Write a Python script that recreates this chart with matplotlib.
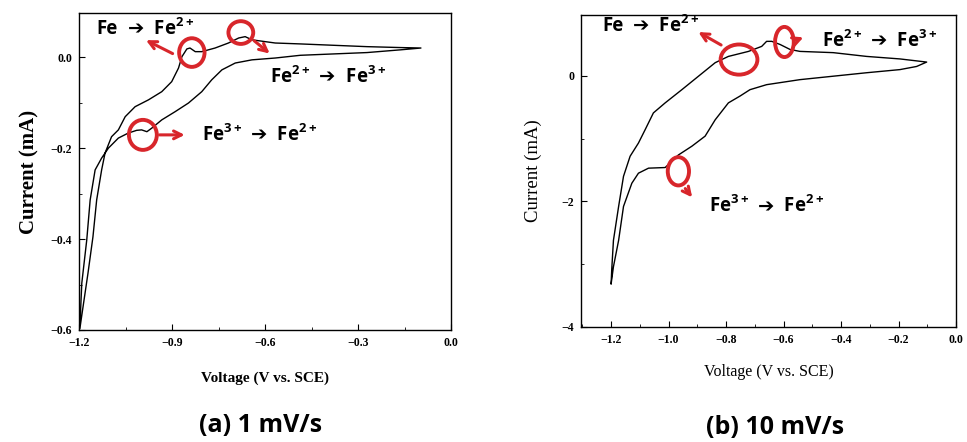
import matplotlib
matplotlib.use("Agg")
import matplotlib.pyplot as plt
from matplotlib.patches import Ellipse
from matplotlib.ticker import MultipleLocator

# (a) 1 mV/s: forward sweep (upper branch) then return (lower branch)
a_up_v = [-1.197, -1.190, -1.171, -1.155, -1.143, -1.127, -1.116, -1.095, -1.073, -1.051,
          -1.019, -0.976, -0.933, -0.901, -0.879, -0.868, -0.852, -0.842, -0.825, -0.804,
          -0.761, -0.718, -0.685, -0.664, -0.642, -0.567, -0.486, -0.379, -0.271, -0.163, -0.097]
a_up_i = [-0.596, -0.563, -0.475, -0.395, -0.314, -0.248, -0.211, -0.175, -0.160, -0.131,
          -0.109, -0.094, -0.076, -0.054, -0.024, 0.001, 0.018, 0.020, 0.012, 0.012,
          0.020, 0.031, 0.042, 0.045, 0.038, 0.031, 0.029, 0.026, 0.023, 0.021, 0.020]
a_dn_v = [-0.097, -0.163, -0.271, -0.379, -0.486, -0.567, -0.642, -0.696, -0.739, -0.772,
          -0.804, -0.847, -0.890, -0.933, -0.965, -0.981, -0.998, -1.014, -1.041, -1.073,
          -1.105, -1.127, -1.148, -1.164, -1.175, -1.191, -1.197]
a_dn_i = [0.020, 0.016, 0.010, 0.007, 0.004, -0.002, -0.006, -0.013, -0.028, -0.050,
          -0.076, -0.101, -0.120, -0.138, -0.156, -0.164, -0.160, -0.161, -0.167, -0.178,
          -0.200, -0.222, -0.248, -0.314, -0.402, -0.497, -0.589]

# (b) 10 mV/s
b_up_v = [-1.200, -1.198, -1.192, -1.174, -1.157, -1.134, -1.105, -1.082, -1.053, -1.012,
          -0.954, -0.896, -0.838, -0.792, -0.722, -0.676, -0.659, -0.641, -0.612, -0.577,
          -0.543, -0.427, -0.311, -0.195, -0.102]
b_up_i = [-3.31, -3.09, -2.62, -2.08, -1.60, -1.28, -1.07, -0.86, -0.59, -0.43,
          -0.22, -0.005, 0.21, 0.31, 0.39, 0.47, 0.55, 0.55, 0.50, 0.42,
          0.39, 0.37, 0.31, 0.27, 0.22]
b_dn_v = [-0.102, -0.137, -0.195, -0.311, -0.427, -0.543, -0.659, -0.717, -0.751, -0.792,
          -0.838, -0.873, -0.919, -0.966, -1.012, -1.070, -1.105, -1.128, -1.157, -1.174,
          -1.192, -1.200]
b_dn_i = [0.22, 0.15, 0.10, 0.05, -0.005, -0.06, -0.14, -0.22, -0.32, -0.43,
          -0.70, -0.96, -1.12, -1.26, -1.46, -1.47, -1.55, -1.71, -2.08, -2.62,
          -3.04, -3.31]

RED = "#d8262b"
plt.rcParams["mathtext.fontset"] = "custom"
plt.rcParams["mathtext.rm"] = "Open Sans:bold"
plt.rcParams["mathtext.bf"] = "Open Sans:bold"
SANS = ["Open Sans", "DejaVu Sans"]
SERIF = ["Liberation Serif", "DejaVu Serif"]

fig = plt.figure(figsize=(9.67, 4.42), dpi=100)
ax1 = fig.add_axes([0.0817, 0.2534, 0.3847, 0.7172])
ax2 = fig.add_axes([0.6008, 0.2602, 0.3878, 0.7059])

ax1.plot(a_up_v + a_dn_v, a_up_i + a_dn_i, color="black", lw=1.0)
ax2.plot(b_up_v + b_dn_v, b_up_i + b_dn_i, color="black", lw=1.0)

ax1.set_xlim(-1.2, 0.0)
ax1.set_ylim(-0.6, 0.097)
ax1.xaxis.set_major_locator(MultipleLocator(0.3))
ax1.xaxis.set_minor_locator(MultipleLocator(0.15))
ax1.yaxis.set_major_locator(MultipleLocator(0.2))
ax1.yaxis.set_minor_locator(MultipleLocator(0.1))

ax2.set_xlim(-1.305, 0.0)
ax2.set_ylim(-4, 0.97)
ax2.xaxis.set_major_locator(MultipleLocator(0.2))
ax2.xaxis.set_minor_locator(MultipleLocator(0.1))
ax2.yaxis.set_major_locator(MultipleLocator(2))
ax2.yaxis.set_minor_locator(MultipleLocator(1))

for ax in (ax1, ax2):
    ax.tick_params(which="both", direction="in", top=False, right=False)
    ax.tick_params(which="major", length=4, pad=5)
    ax.tick_params(which="minor", length=2.5)
    for lab in ax.get_xticklabels() + ax.get_yticklabels():
        lab.set_fontfamily(SERIF)
        lab.set_fontweight("bold")
        lab.set_fontsize(8.5)
    for s in ax.spines.values():
        s.set_linewidth(1.0)

ax1.set_ylabel("Current (mA)", family=SERIF, fontweight="bold", fontsize=15, labelpad=8)
ax1.set_xlabel("Voltage (V vs. SCE)", family=SERIF, fontweight="bold", fontsize=11, labelpad=16)
ax2.set_ylabel("Current (mA)", family=SERIF, fontsize=13.5, labelpad=14)
ax2.set_xlabel("Voltage (V vs. SCE)", family=SERIF, fontsize=11.5, labelpad=13)

fig.text(0.269, 0.038, "(a) 1 mV/s", family=SANS, fontweight="bold", fontsize=18,
         ha="center", va="center")
fig.text(0.802, 0.032, "(b) 10 mV/s", family=SANS, fontweight="bold", fontsize=18,
         ha="center", va="center")


def label(ax, x, y, a, b):
    fs = 13.5
    t = ax.text(x, y, a + "  ", family=SANS, fontweight="bold", fontsize=fs,
                va="center", ha="left")
    fig.canvas.draw()
    bb = t.get_window_extent().transformed(ax.transData.inverted())
    t.set_text(a)
    ar = ax.text(bb.x1, y, "➔", family=["DejaVu Sans"], fontweight="bold", fontsize=14,
                 va="center", ha="left")
    bb2 = ar.get_window_extent().transformed(ax.transData.inverted())
    ax.text(bb2.x1, y, r"  $\mathrm{Fe}^{%s}$" % b, family=SANS, fontweight="bold",
            fontsize=fs, va="center", ha="left")


def ring(ax, x, y, w, h):
    ax.add_patch(Ellipse((x, y), w, h, fill=False, edgecolor=RED, lw=2.8, zorder=5))


def arrow(ax, x0, y0, x1, y1):
    ax.annotate("", xy=(x1, y1), xytext=(x0, y0),
                arrowprops=dict(arrowstyle="->", color=RED, lw=2.2, mutation_scale=14), zorder=5)


# annotations (a)
label(ax1, -1.143, 0.062, "Fe", "2+")
ring(ax1, -0.836, 0.010, 0.082, 0.063)
arrow(ax1, -0.890, 0.005, -0.992, 0.040)
ring(ax1, -0.678, 0.054, 0.080, 0.050)
arrow(ax1, -0.642, 0.040, -0.578, 0.004)
label(ax1, -0.583, -0.044, r"Fe$^{2+}$", "3+")
ring(ax1, -0.994, -0.171, 0.090, 0.066)
arrow(ax1, -0.949, -0.171, -0.850, -0.171)
label(ax1, -0.804, -0.171, r"Fe$^{3+}$", "2+")

# annotations (b)
label(ax2, -1.232, 0.79, "Fe", "2+")
ring(ax2, -0.755, 0.26, 0.128, 0.48)
arrow(ax2, -0.809, 0.47, -0.905, 0.72)
ring(ax2, -0.597, 0.54, 0.065, 0.48)
arrow(ax2, -0.566, 0.55, -0.522, 0.63)
label(ax2, -0.467, 0.55, r"Fe$^{2+}$", "3+")
ring(ax2, -0.966, -1.52, 0.074, 0.45)
arrow(ax2, -0.948, -1.76, -0.912, -1.97)
label(ax2, -0.861, -2.08, r"Fe$^{3+}$", "2+")

fig.savefig("out.png", dpi=100)
